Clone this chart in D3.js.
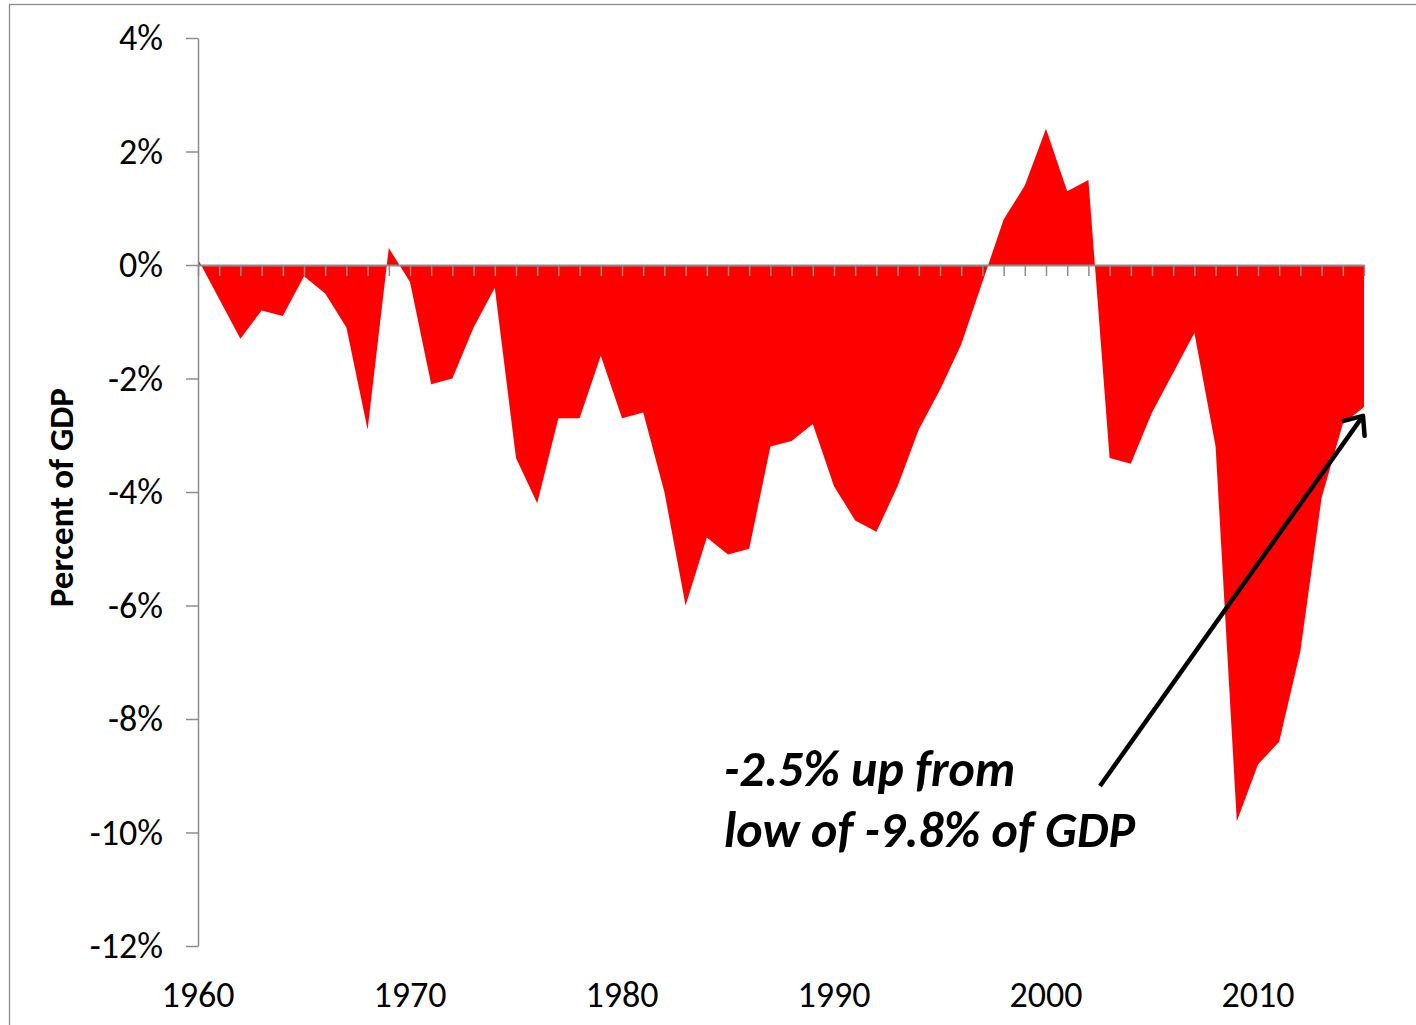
<!DOCTYPE html>
<html>
<head>
<meta charset="utf-8">
<script src="https://cdn.jsdelivr.net/npm/d3@7"></script>
<style>
  html, body { margin: 0; padding: 0; background: #fff; }
  svg { display: block; }
  text { font-family: Carlito, Lato, "Open Sans", sans-serif; fill: #000; }
</style>
</head>
<body>
<svg id="chart" width="1416" height="1025"></svg>
<script>
const years = d3.range(1960, 2016);
const balance = [
  0.1, -0.6, -1.3, -0.8, -0.9, -0.2, -0.5, -1.1, -2.9, 0.3,
  -0.3, -2.1, -2.0, -1.1, -0.4, -3.4, -4.2, -2.7, -2.7, -1.6,
  -2.7, -2.6, -4.0, -6.0, -4.8, -5.1, -5.0, -3.2, -3.1, -2.8,
  -3.9, -4.5, -4.7, -3.9, -2.9, -2.2, -1.4, -0.3, 0.8, 1.4,
  2.4, 1.3, 1.5, -3.4, -3.5, -2.6, -1.9, -1.2, -3.2, -9.8,
  -8.8, -8.4, -6.8, -4.1, -2.8, -2.5
];
const yTicks = [-12, -10, -8, -6, -4, -2, 0, 2, 4];
const xLabelYears = [1960, 1970, 1980, 1990, 2000, 2010];
const yTitle = "Percent of GDP";
const noteLines = ["-2.5% up from", "low of -9.8% of GDP"];

const data = years.map((yr, i) => ({ year: yr, value: balance[i] }));

const svg = d3.select("#chart");

// outer border
svg.append("rect")
  .attr("x", 9.5).attr("y", 4.5)
  .attr("width", 1420).attr("height", 1030)
  .attr("fill", "none").attr("stroke", "#8c8c8c").attr("stroke-width", 1.3);

const x = d3.scaleLinear().domain([1960, 2015]).range([198, 1364]);
const y = d3.scaleLinear().domain([-12, 4]).range([946, 38]);

// area
const area = d3.area()
  .x(d => x(d.year))
  .y0(y(0))
  .y1(d => y(d.value));

svg.append("path")
  .datum(data)
  .attr("d", area)
  .attr("fill", "#ff0000");

const axisColor = "#8c8c8c";

// y axis
const yAxis = svg.append("g")
  .attr("transform", `translate(${x(1960)},0)`)
  .call(d3.axisLeft(y).tickValues(yTicks).tickSize(12).tickSizeOuter(0)
    .tickFormat(d => `${d}%`).tickPadding(23));
yAxis.select(".domain").attr("stroke", axisColor).attr("stroke-width", 1.5);
yAxis.selectAll(".tick line").attr("stroke", axisColor).attr("stroke-width", 1.5);
yAxis.selectAll(".tick text")
  .style("font-family", "Carlito, Lato, sans-serif")
  .attr("font-size", 36).attr("fill", "#000");

// x axis at zero (ticks every year, no labels)
const xAxis = svg.append("g")
  .attr("transform", `translate(0,${y(0)})`)
  .call(d3.axisBottom(x).tickValues(years).tickSize(11).tickSizeOuter(0).tickFormat(""));
xAxis.select(".domain").attr("stroke", axisColor).attr("stroke-width", 2);
xAxis.selectAll(".tick line").attr("stroke", axisColor).attr("stroke-width", 1.5);

// x labels at bottom
svg.append("g").selectAll("text")
  .data(xLabelYears)
  .join("text")
  .attr("x", d => x(d))
  .attr("y", 1007)
  .attr("text-anchor", "middle")
  .attr("font-size", 36)
  .text(d => d);

// y title
svg.append("text")
  .attr("transform", `translate(73,${y(-4.1)}) rotate(-90)`)
  .attr("text-anchor", "middle")
  .attr("font-size", 35)
  .attr("font-weight", "bold")
  .text(yTitle);

// annotation
const note = svg.append("text")
  .attr("font-size", 50)
  .attr("font-weight", "bold")
  .attr("font-style", "italic");
note.selectAll("tspan")
  .data(noteLines)
  .join("tspan")
  .attr("x", 724)
  .attr("y", (d, i) => 786 + i * 61)
  .text(d => d);

// arrow
const tipX = x(2015) - 1, tipY = y(-2.5) + 9;
const startX = 1100, startY = 786;
const ang = Math.atan2(tipY - startY, tipX - startX);
const arm = 20, spread = Math.PI / 4.5;
svg.append("line")
  .attr("x1", startX).attr("y1", startY)
  .attr("x2", tipX).attr("y2", tipY)
  .attr("stroke", "#000").attr("stroke-width", 4.5);
svg.append("path")
  .attr("d", `M${tipX - arm * Math.cos(ang - spread)},${tipY - arm * Math.sin(ang - spread)}
              L${tipX},${tipY}
              L${tipX - arm * Math.cos(ang + spread)},${tipY - arm * Math.sin(ang + spread)}`)
  .attr("fill", "none").attr("stroke", "#000").attr("stroke-width", 4.5)
  .attr("stroke-linecap", "round").attr("stroke-linejoin", "round");
</script>
</body>
</html>
